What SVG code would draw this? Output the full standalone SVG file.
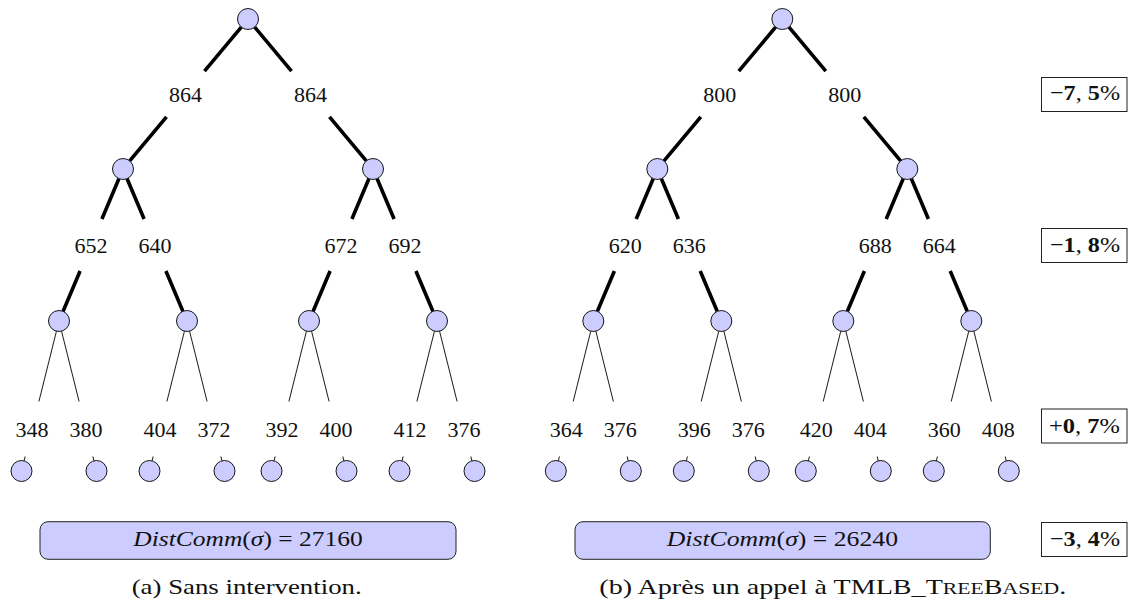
<svg xmlns="http://www.w3.org/2000/svg" width="1128" height="603" viewBox="0 0 1128 603">
<style>
.n{fill:#ccccff;stroke:#000;stroke-width:0.9}
.th{stroke:#000;stroke-width:3.6;fill:none}
.tn{stroke:#000;stroke-width:0.9;fill:none}
.lbl{font-family:'Liberation Serif','DejaVu Serif',serif;font-size:22px;text-anchor:middle;fill:#111}
.t{font-family:'Liberation Serif','DejaVu Serif',serif;font-size:22px;fill:#111}
.it{font-style:italic}
.b{font-weight:bold}
.sc{font-size:17px}
.box{fill:#ccccff;stroke:#222;stroke-width:1}
.pbox{fill:#fff;stroke:#222;stroke-width:1}
</style>
<defs>
<g id="edgesT">
<path class="th" d="M241.3,27.1L204.5,71.2M166.5,116.8L129.7,160.9M254.7,27.1L291.5,71.2M329.5,116.8L366.3,160.9"/>
<path class="th" d="M118.9,178.7L101.9,219M80.1,271L63.1,311.3M127.1,178.7L144.1,219M165.9,271L182.9,311.3M368.9,178.7L351.9,219M330.1,271L313.1,311.3M377.1,178.7L394.1,219M415.9,271L432.9,311.3"/>
<path class="tn" d="M56.45,331.2L38.9,401.5M25.1,456.5L24.05,460.8M61.55,331.2L79.1,401.5M92.9,456.5L93.95,460.8M184.45,331.2L166.9,401.5M153.1,456.5L152.05,460.8M189.55,331.2L207.1,401.5M220.9,456.5L221.95,460.8M306.45,331.2L288.9,401.5M275.1,456.5L274.05,460.8M311.55,331.2L329.1,401.5M342.9,456.5L343.95,460.8M434.45,331.2L416.9,401.5M403.1,456.5L402.05,460.8M439.55,331.2L457.1,401.5M470.9,456.5L471.95,460.8"/>
</g>
</defs>
<g id="connectors">
<g id="edges-a">
<use href="#edgesT"/>
<g class="lbl">
<text x="185.5" y="101.5">864</text><text x="310.5" y="101.5">864</text>
<text x="91" y="252.5">652</text><text x="155" y="252.5">640</text><text x="341" y="252.5">672</text><text x="405" y="252.5">692</text>
<text x="32" y="436.5">348</text><text x="86" y="436.5">380</text><text x="160" y="436.5">404</text><text x="214" y="436.5">372</text><text x="282" y="436.5">392</text><text x="336" y="436.5">400</text><text x="410" y="436.5">412</text><text x="464" y="436.5">376</text>
</g>
</g>
<g id="edges-b" transform="translate(534.3 0)">
<use href="#edgesT"/>
<g class="lbl">
<text x="185.5" y="101.5">800</text><text x="310.5" y="101.5">800</text>
<text x="91" y="252.5">620</text><text x="155" y="252.5">636</text><text x="341" y="252.5">688</text><text x="405" y="252.5">664</text>
<text x="32" y="436.5">364</text><text x="86" y="436.5">376</text><text x="160" y="436.5">396</text><text x="214" y="436.5">376</text><text x="282" y="436.5">420</text><text x="336" y="436.5">404</text><text x="410" y="436.5">360</text><text x="464" y="436.5">408</text>
</g>
</g>
</g>
<g id="tree-a">
<g id="a-root"><circle class="n" cx="248" cy="19" r="10.5"/></g>
<g id="a-n1"><circle class="n" cx="123" cy="169" r="10.5"/></g>
<g id="a-n2"><circle class="n" cx="373" cy="169" r="10.5"/></g>
<g id="a-n11"><circle class="n" cx="59" cy="321" r="10.5"/></g>
<g id="a-n12"><circle class="n" cx="187" cy="321" r="10.5"/></g>
<g id="a-n21"><circle class="n" cx="309" cy="321" r="10.5"/></g>
<g id="a-n22"><circle class="n" cx="437" cy="321" r="10.5"/></g>
<g id="a-l1"><circle class="n" cx="21.5" cy="471" r="10.5"/></g>
<g id="a-l2"><circle class="n" cx="96.5" cy="471" r="10.5"/></g>
<g id="a-l3"><circle class="n" cx="149.5" cy="471" r="10.5"/></g>
<g id="a-l4"><circle class="n" cx="224.5" cy="471" r="10.5"/></g>
<g id="a-l5"><circle class="n" cx="271.5" cy="471" r="10.5"/></g>
<g id="a-l6"><circle class="n" cx="346.5" cy="471" r="10.5"/></g>
<g id="a-l7"><circle class="n" cx="399.5" cy="471" r="10.5"/></g>
<g id="a-l8"><circle class="n" cx="474.5" cy="471" r="10.5"/></g>
</g>
<g id="tree-b" transform="translate(534.3 0)">
<g id="b-root"><circle class="n" cx="248" cy="19" r="10.5"/></g>
<g id="b-n1"><circle class="n" cx="123" cy="169" r="10.5"/></g>
<g id="b-n2"><circle class="n" cx="373" cy="169" r="10.5"/></g>
<g id="b-n11"><circle class="n" cx="59" cy="321" r="10.5"/></g>
<g id="b-n12"><circle class="n" cx="187" cy="321" r="10.5"/></g>
<g id="b-n21"><circle class="n" cx="309" cy="321" r="10.5"/></g>
<g id="b-n22"><circle class="n" cx="437" cy="321" r="10.5"/></g>
<g id="b-l1"><circle class="n" cx="21.5" cy="471" r="10.5"/></g>
<g id="b-l2"><circle class="n" cx="96.5" cy="471" r="10.5"/></g>
<g id="b-l3"><circle class="n" cx="149.5" cy="471" r="10.5"/></g>
<g id="b-l4"><circle class="n" cx="224.5" cy="471" r="10.5"/></g>
<g id="b-l5"><circle class="n" cx="271.5" cy="471" r="10.5"/></g>
<g id="b-l6"><circle class="n" cx="346.5" cy="471" r="10.5"/></g>
<g id="b-l7"><circle class="n" cx="399.5" cy="471" r="10.5"/></g>
<g id="b-l8"><circle class="n" cx="474.5" cy="471" r="10.5"/></g>
</g>
<g id="dist-a">
<rect class="box" x="40" y="521.7" width="416" height="37.6" rx="8"/>
<text class="t" x="133.3" y="545.7" textLength="229.4" lengthAdjust="spacingAndGlyphs"><tspan class="it">DistComm</tspan>(<tspan class="it">σ</tspan>) = 27160</text>
</g>
<g id="dist-b">
<rect class="box" x="575" y="521.7" width="415.3" height="37.6" rx="8"/>
<text class="t" x="666.7" y="545.7" textLength="231.3" lengthAdjust="spacingAndGlyphs"><tspan class="it">DistComm</tspan>(<tspan class="it">σ</tspan>) = 26240</text>
</g>
<g id="pct-1">
<rect class="pbox" x="1041.5" y="77.5" width="85.5" height="34"/>
<text class="t" x="1050" y="99.5" textLength="70" lengthAdjust="spacingAndGlyphs">−<tspan class="b">7</tspan>, <tspan class="b">5</tspan>%</text>
</g>
<g id="pct-2">
<rect class="pbox" x="1041.5" y="228.5" width="85.5" height="34"/>
<text class="t" x="1050" y="251.5" textLength="70" lengthAdjust="spacingAndGlyphs">−<tspan class="b">1</tspan>, <tspan class="b">8</tspan>%</text>
</g>
<g id="pct-3">
<rect class="pbox" x="1041.5" y="409" width="85.5" height="34"/>
<text class="t" x="1049" y="433" textLength="71" lengthAdjust="spacingAndGlyphs">+<tspan class="b">0</tspan>, <tspan class="b">7</tspan>%</text>
</g>
<g id="pct-4">
<rect class="pbox" x="1041.5" y="522.5" width="85.5" height="34"/>
<text class="t" x="1050" y="545.5" textLength="70" lengthAdjust="spacingAndGlyphs">−<tspan class="b">3</tspan>, <tspan class="b">4</tspan>%</text>
</g>
<g id="captions">
<text class="t" x="131.7" y="594.3" textLength="230" lengthAdjust="spacingAndGlyphs">(a) Sans intervention.</text>
<text class="t" x="599.3" y="594.3" textLength="467" lengthAdjust="spacingAndGlyphs">(b) Après un appel à TMLB_T<tspan class="sc">REE</tspan>B<tspan class="sc">ASED</tspan>.</text>
</g>
</svg>
